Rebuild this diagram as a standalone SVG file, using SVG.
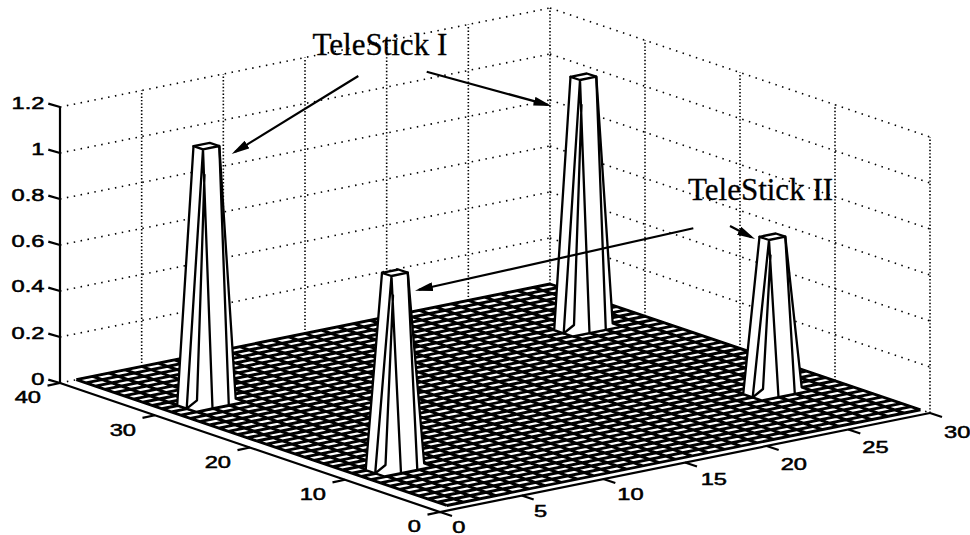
<svg xmlns="http://www.w3.org/2000/svg" width="970" height="535" viewBox="0 0 970 535">
<defs>
<style>
.dh{fill:none;stroke:#000;stroke-width:1.6;stroke-dasharray:1.5 5.5}
.dv{fill:none;stroke:#000;stroke-width:1.6;stroke-dasharray:1.4 2}
.ax{fill:none;stroke:#000;stroke-width:2.2}
.mesh{fill:none;stroke:#000;stroke-width:2.9}
.pb{fill:#fff;stroke:#000;stroke-width:2.3;stroke-linejoin:round}
.pl{fill:none;stroke:#000;stroke-width:2.3;stroke-linecap:round;stroke-linejoin:round}
.tl{font-family:"Liberation Sans",Arial,sans-serif;font-size:16px;fill:#000;stroke:#000;stroke-width:0.5}
.an{font-family:"Liberation Serif","Times New Roman",serif;font-size:31px;fill:#000;stroke:#000;stroke-width:0.3}
.arr{fill:none;stroke:#000;stroke-width:2.2;marker-end:url(#ah)}
</style>
<marker id="ah" markerUnits="userSpaceOnUse" viewBox="0 0 18 9" markerWidth="18" markerHeight="9" refX="14" refY="4.5" orient="auto">
<path d="M0,0 L18,4.5 L0,9 Z" fill="#000"/>
</marker>
</defs>
<rect width="970" height="535" fill="#fff"/>
<g id="walls">
<path class="dh" d="M60 337L550 238M60 291L550 192M60 245L550 146M60 199L550 100M60 153L550 54M60 107L550 8M550 238L930 367M550 192L930 321M550 146L930 275M550 100L930 229M550 54L930 183M550 8L930 137M60 383L550 284L930 413"/>
<path class="dv" d="M141.67 366.5V90.5M223.33 350V74M305 333.5V57.5M386.67 317V41M468.33 300.5V24.5M550 284V8M930 413V137M835 380.75V104.75M740 348.5V72.5M645 316.25V40.25"/>
</g>
<g id="axes">
<path class="ax" d="M60 107V383L440 512L930 413"/>
<path class="ax" d="M60 107l-11.7-3.4M60 153l-11.7-3.4M60 199l-11.7-3.4M60 245l-11.7-3.4M60 291l-11.7-3.4M60 337l-11.7-3.4M60 383l-11.7-3.4M440 512l-12.5 2.6M345 479.75l-12.5 2.6M250 447.5l-12.5 2.6M155 415.25l-12.5 2.6M60 383l-12.5 2.6M440 512l12 4M521.67 495.5l12 4M603.33 479l12 4M685 462.5l12 4M766.67 446l12 4M848.33 429.5l12 4M930 413l12 4"/>
</g>
<g id="mesh" transform="matrix(16.333,-3.3,-9.5,-3.225,440,512)">
<path class="mesh" vector-effect="non-scaling-stroke" d="M1 1v39m1-39v39m1-39v39m1-39v39m1-39v39m1-39v39m1-39v39m1-39v39m1-39v39m1-39v39m1-39v39m1-39v39m1-39v39m1-39v39m1-39v39m1-39v39m1-39v39m1-39v39m1-39v39m1-39v39m1-39v39m1-39v39m1-39v39m1-39v39m1-39v39m1-39v39m1-39v39m1-39v39m1-39v39m1-39v39M1 1h29m-29 1h29m-29 1h29m-29 1h29m-29 1h29m-29 1h29m-29 1h29m-29 1h29m-29 1h29m-29 1h29m-29 1h29m-29 1h29m-29 1h29m-29 1h29m-29 1h29m-29 1h29m-29 1h29m-29 1h29m-29 1h29m-29 1h29m-29 1h29m-29 1h29m-29 1h29m-29 1h29m-29 1h29m-29 1h29m-29 1h29m-29 1h29m-29 1h29m-29 1h29m-29 1h29m-29 1h29m-29 1h29m-29 1h29m-29 1h29m-29 1h29m-29 1h29m-29 1h29m-29 1h29m-29 1h29"/>
</g>
<g id="pillar3">
<path class="pb" d="M570.5 76.8L586.8 73.5L596.3 76.7L612.7 323.4L622.2 326.6L605.8 329.9L589.5 333.2L573.2 336.5L563.7 333.3L554.2 330.1Z"/>
<path class="pl" d="M570.5 76.8L580 80L596.3 76.7M580 80L563.7 333.3M580 80L589.5 333.2M596.3 76.7L605.8 329.9M581.5 105L574 325L563.7 333.3"/>
</g>
<g id="pillar4">
<path class="pb" d="M759.5 236.8L775.8 233.5L785.3 236.7L801.7 387.4L811.2 390.6L794.8 393.9L778.5 397.2L762.2 400.5L752.7 397.3L743.2 394.1Z"/>
<path class="pl" d="M759.5 236.8L769 240L785.3 236.7M769 240L752.7 397.3M769 240L778.5 397.2M785.3 236.7L794.8 393.9M770.5 255.4L763 389L752.7 397.3"/>
</g>
<g id="pillar1">
<path class="pb" d="M193.5 146.1L209.8 142.8L219.3 146L235.7 398.7L245.2 401.9L228.8 405.2L212.5 408.5L196.2 411.8L186.7 408.6L177.2 405.4Z"/>
<path class="pl" d="M193.5 146.1L203 149.3L219.3 146M203 149.3L186.7 408.6M203 149.3L212.5 408.5M219.3 146L228.8 405.2M204.5 174.9L197 400.3L186.7 408.6"/>
</g>
<g id="pillar2">
<path class="pb" d="M382 272.8L398.3 269.5L407.8 272.7L424.2 463.4L433.7 466.6L417.3 469.9L401 473.2L384.7 476.5L375.2 473.3L365.7 470.1Z"/>
<path class="pl" d="M382 272.8L391.5 276L407.8 272.7M391.5 276L375.2 473.3M391.5 276L401 473.2M407.8 272.7L417.3 469.9M393 295.4L385.5 465L375.2 473.3"/>
</g>
<g id="zlabels" class="tl" text-anchor="end">
<text transform="translate(44.5,108.5) scale(1.48,1)">1.2</text>
<text transform="translate(44.5,154.5) scale(1.48,1)">1</text>
<text transform="translate(44.5,200.5) scale(1.48,1)">0.8</text>
<text transform="translate(44.5,246.5) scale(1.48,1)">0.6</text>
<text transform="translate(44.5,292) scale(1.48,1)">0.4</text>
<text transform="translate(44.5,338.5) scale(1.48,1)">0.2</text>
<text transform="translate(44.5,385) scale(1.48,1)">0</text>
</g>
<g id="ylabels" class="tl" text-anchor="end">
<text transform="translate(41,403.3) scale(1.48,1)">40</text>
<text transform="translate(136,435.7) scale(1.48,1)">30</text>
<text transform="translate(231,468.3) scale(1.48,1)">20</text>
<text transform="translate(326,500) scale(1.48,1)">10</text>
<text transform="translate(421,531.7) scale(1.48,1)">0</text>
</g>
<g id="xlabels" class="tl">
<text transform="translate(452.3,533.3) scale(1.48,1)">0</text>
<text transform="translate(534,516.7) scale(1.48,1)">5</text>
<text transform="translate(617.3,500) scale(1.48,1)">10</text>
<text transform="translate(700.7,485) scale(1.48,1)">15</text>
<text transform="translate(780.7,470) scale(1.48,1)">20</text>
<text transform="translate(862.3,453.3) scale(1.48,1)">25</text>
<text transform="translate(944,438.3) scale(1.48,1)">30</text>
</g>
<g id="label-telestick-1"><text class="an" x="312.5" y="54.5">TeleStick I</text></g>
<g id="label-telestick-2"><text class="an" x="688" y="199.5">TeleStick II</text></g>
<g id="connectors">
<path class="arr" d="M358.3 76L235.1 151.9"/>
<path class="arr" d="M426.7 71.7L547.8 104.9"/>
<path class="arr" d="M693.3 228.3L418.9 289.8"/>
<path class="arr" d="M730 226L751.5 237.2"/>
</g>
</svg>
